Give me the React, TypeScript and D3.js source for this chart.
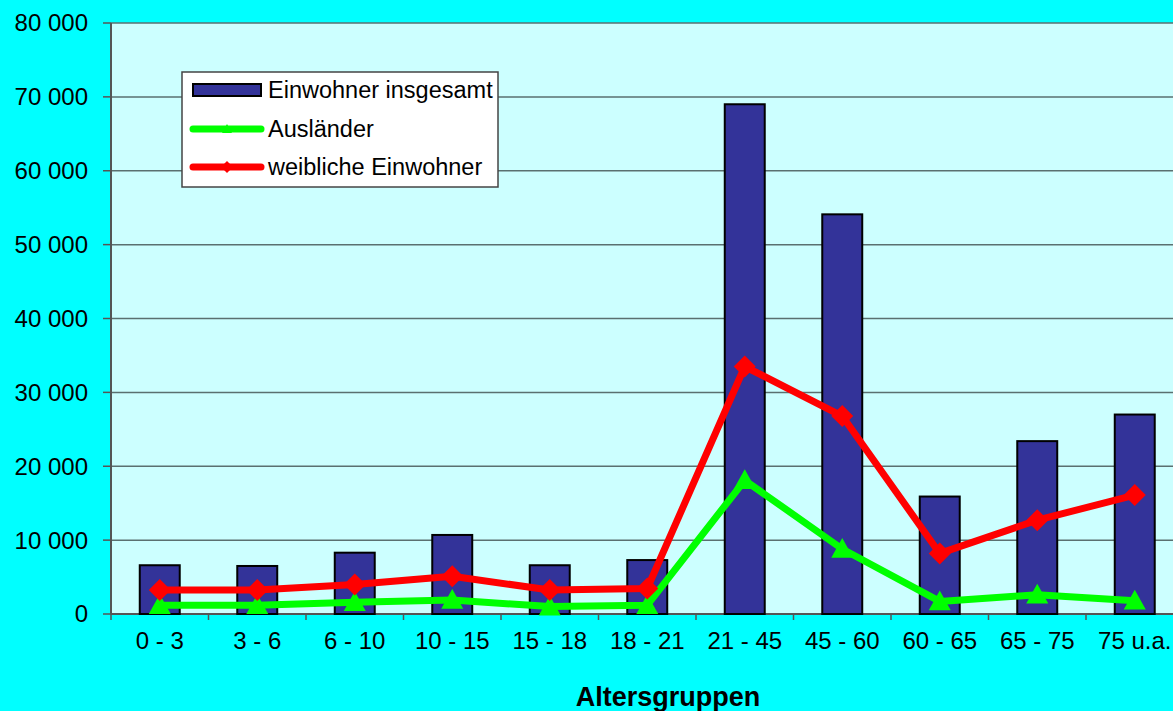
import React from "react";
import * as d3 from "d3";

const categories = ["0 - 3", "3 - 6", "6 - 10", "10 - 15", "15 - 18", "18 - 21", "21 - 45", "45 - 60", "60 - 65", "65 - 75", "75 u.a."];
const einwohner = [6600, 6500, 8300, 10700, 6600, 7300, 69000, 54100, 15900, 23400, 27000];
const auslaender = [1200, 1200, 1600, 1900, 1000, 1200, 18100, 8800, 1700, 2600, 1800];
const weiblich = [3250, 3250, 4000, 5100, 3250, 3450, 33500, 26800, 8200, 12700, 16100];
const yTicks = [0, 10000, 20000, 30000, 40000, 50000, 60000, 70000, 80000];

const W = 1173, H = 711;
const left = 111, top = 23, bottom = 614;
const band = 97.5;
const right = left + band * categories.length;

export default function App() {
  const x = d3.scaleBand<string>().domain(categories).range([left, right]).paddingInner(0.59).paddingOuter(0.295);
  const xc = (c: string) => (x(c) as number) + x.bandwidth() / 2;
  const y = d3.scaleLinear().domain([0, 80000]).range([bottom, top]);
  const fmt = (v: number) => d3.format(",")(v).replace(/,/g, " ");
  const line = d3.line<number>().x((_, i) => xc(categories[i])).y((d) => y(d));
  const font = "'Liberation Sans', Arial, sans-serif";
  const diamond = (cx: number, cy: number, r: number) => `M${cx},${cy - r}L${cx + r},${cy}L${cx},${cy + r}L${cx - r},${cy}Z`;
  const tri = (cx: number, cy: number, r: number) => `M${cx},${cy - r}L${cx + r},${cy + r * 0.8}L${cx - r},${cy + r * 0.8}Z`;
  const tickX = d3.range(categories.length + 1).map((i) => left + i * band);
  const fs = 24;
  const lfs = 23.5;

  return (
    <svg width={W} height={H} style={{ position: "absolute", left: 0, top: 0 }} fontFamily={font}>
      <rect x={0} y={0} width={W} height={H} fill="#00FFFF" />
      <rect x={left} y={top} width={right - left} height={bottom - top} fill="#CCFFFF" />
      {yTicks.map((t) => (
        <g key={t}>
          {t > 0 && <line x1={left} x2={right} y1={y(t)} y2={y(t)} stroke="#5a7070" strokeWidth={1.5} />}
          <line x1={left - 8} x2={left} y1={y(t)} y2={y(t)} stroke="#555" strokeWidth={1.5} />
          <text x={88} y={y(t)} dy="0.35em" textAnchor="end" fontSize={fs} fill="#000">{fmt(t)}</text>
        </g>
      ))}
      <line x1={left} x2={left} y1={top} y2={bottom} stroke="#555" strokeWidth={2} />
      <line x1={left} x2={right} y1={bottom} y2={bottom} stroke="#555" strokeWidth={2} />
      {tickX.map((tx, i) => (
        <line key={i} x1={tx} x2={tx} y1={bottom} y2={bottom + 6} stroke="#555" strokeWidth={1.5} />
      ))}
      {categories.map((c, i) => (
        <rect key={c} x={x(c)} y={y(einwohner[i])} width={x.bandwidth()} height={bottom - y(einwohner[i])} fill="#333399" stroke="#000" strokeWidth={2} />
      ))}
      <path d={line(auslaender) as string} fill="none" stroke="#00FF00" strokeWidth={7} strokeLinejoin="round" />
      {categories.map((c, i) => (
        <path key={c} d={tri(xc(c), y(auslaender[i]), 11)} fill="#00FF00" />
      ))}
      <path d={line(weiblich) as string} fill="none" stroke="#FF0000" strokeWidth={7} strokeLinejoin="round" />
      {categories.map((c, i) => (
        <path key={c} d={diamond(xc(c), y(weiblich[i]), 11)} fill="#FF0000" />
      ))}
      {categories.map((c) => (
        <text key={c} x={xc(c)} y={641} dy="0.35em" textAnchor="middle" fontSize={fs} fill="#000">{c}</text>
      ))}
      <text x={668} y={697} dy="0.35em" textAnchor="middle" fontSize={27} fontWeight="bold" fill="#000">Altersgruppen</text>
      <g>
        <rect x={182} y={72} width={316} height={115} fill="#fff" stroke="#444" strokeWidth={1.5} />
        <rect x={193} y={84} width={68} height={12} fill="#333399" stroke="#000" strokeWidth={2} />
        <text x={268} y={90} dy="0.35em" fontSize={lfs} fill="#000">Einwohner insgesamt</text>
        <line x1={193} x2={261} y1={129} y2={129} stroke="#00FF00" strokeWidth={7} strokeLinecap="round" />
        <path d={tri(227, 129, 5)} fill="#00FF00" />
        <text x={268} y={129} dy="0.35em" fontSize={lfs} fill="#000">Ausländer</text>
        <line x1={193} x2={261} y1={167} y2={167} stroke="#FF0000" strokeWidth={7} strokeLinecap="round" />
        <path d={diamond(227, 167, 6)} fill="#FF0000" />
        <text x={268} y={167} dy="0.35em" fontSize={lfs} fill="#000">weibliche Einwohner</text>
      </g>
    </svg>
  );
}
